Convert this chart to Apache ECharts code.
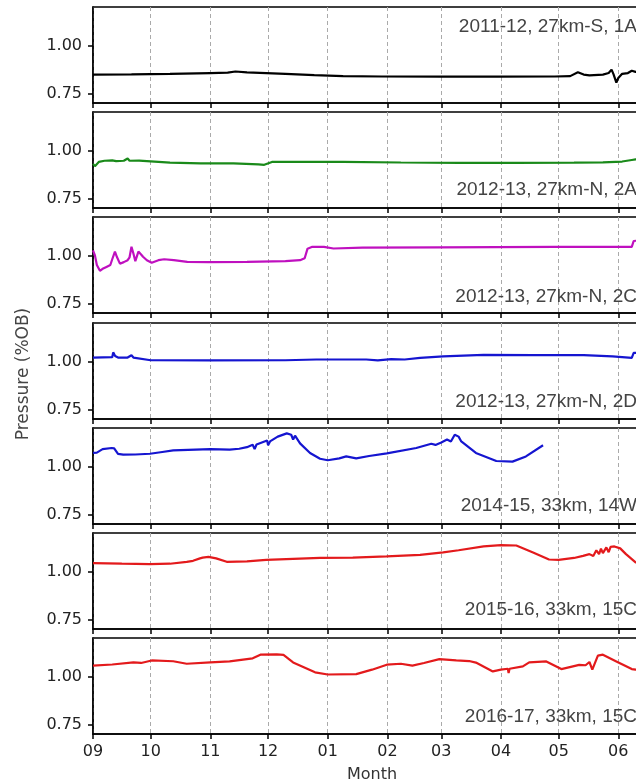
<!DOCTYPE html>
<html>
<head>
<meta charset="utf-8">
<script src="https://cdn.jsdelivr.net/npm/echarts@6/dist/echarts.min.js"></script>
<style>
  html, body { margin: 0; padding: 0; background: #fff; }
  #chart { width: 636px; height: 782px; }
</style>
</head>
<body>
<div id="chart"></div>
<script>
// x = days since 1 Sep, y = pressure as fraction of overburden
var monthDays = [0, 30, 61, 91, 122, 153, 181, 212, 242, 273];
var monthLabels = ["09", "10", "11", "12", "01", "02", "03", "04", "05", "06"];
var yTicks = [0.75, 1.0];

var panelNames = [
  "2011-12, 27km-S, 1A",
  "2012-13, 27km-N, 2A",
  "2012-13, 27km-N, 2C",
  "2012-13, 27km-N, 2D",
  "2014-15, 33km, 14W",
  "2015-16, 33km, 15C",
  "2016-17, 33km, 15C"
];
var panelColors = ["#000000", "#1a8a1a", "#bf10bf", "#1515d0", "#1515d0", "#e31a1c", "#e31a1c"];

var black1A = [[0,0.848],[20,0.849],[40,0.852],[61,0.856],[70,0.858],[74,0.864],[80,0.860],[100,0.852],[115,0.845],[130,0.840],[150,0.838],[181,0.837],[210,0.837],[240,0.838],[248,0.840],[252,0.860],[255,0.848],[258,0.844],[265,0.848],[268,0.856],[269.5,0.874],[270.5,0.850],[272,0.806],[273,0.830],[275,0.852],[278,0.856],[280,0.868],[282,0.862],[290,0.860]];
var green2A = [[0,0.930],[1,0.918],[3,0.940],[6,0.946],[10,0.948],[11,0.958],[12,0.944],[16,0.946],[18,0.958],[19,0.946],[24,0.947],[30,0.943],[40,0.936],[56,0.932],[73,0.932],[86,0.927],[89,0.925],[93,0.940],[110,0.941],[130,0.940],[160,0.937],[190,0.935],[220,0.935],[250,0.936],[265,0.938],[275,0.942],[280,0.950],[282,0.953],[290,0.955]];
var magenta2C = [[0,1.026],[1,1.00],[2,0.95],[3.6,0.92],[5,0.93],[7,0.94],[9,0.95],[10,0.98],[11.4,1.02],[12.5,0.99],[14,0.957],[16,0.965],[18,0.975],[19,0.99],[20,1.045],[21,1.01],[22,0.97],[23.6,1.02],[25,1.005],[26,0.993],[28,0.975],[30.5,0.962],[34,0.975],[37,0.98],[42,0.975],[49,0.966],[60,0.965],[80,0.966],[100,0.970],[107.6,0.975],[110,0.985],[111.5,1.035],[114,1.045],[120,1.044],[125,1.036],[140,1.040],[180,1.042],[240,1.044],[280,1.044],[281,1.075],[282,1.085],[290,1.085]];
var blue2D = [[0,1.020],[5,1.021],[10,1.022],[10.5,1.047],[11.5,1.028],[13,1.020],[18,1.020],[20,1.032],[21,1.020],[22,1.010],[30,1.006],[60,1.005],[100,1.006],[116,1.010],[142,1.010],[148,1.005],[155,1.012],[162,1.010],[170,1.018],[182,1.026],[203,1.034],[229,1.033],[230,1.026],[232,1.033],[255,1.033],[270,1.026],[280,1.018],[281,1.044],[282,1.046],[290,1.046]];
var blue14W = [[0,1.070],[2,1.072],[5,1.090],[9.7,1.096],[11,1.094],[13,1.065],[15.7,1.061],[22,1.062],[29.6,1.066],[36,1.075],[41.7,1.083],[61,1.090],[71,1.087],[76,1.092],[80,1.100],[83,1.113],[84,1.090],[85,1.114],[90.5,1.135],[91,1.110],[92,1.130],[96,1.155],[100.7,1.172],[103,1.165],[104,1.140],[105,1.160],[107.6,1.120],[112.8,1.070],[118,1.040],[122,1.032],[128,1.042],[131.6,1.052],[136.8,1.042],[143.5,1.054],[152.7,1.068],[168,1.096],[175.8,1.118],[178,1.112],[181,1.125],[184,1.140],[186,1.130],[188,1.165],[190,1.155],[191.4,1.130],[199,1.070],[209.6,1.028],[218,1.025],[225,1.052],[233.9,1.110]];
var red15C1 = [[0,1.043],[15,1.040],[29.6,1.038],[40,1.040],[48.7,1.050],[52,1.055],[55.6,1.068],[56,1.058],[57,1.072],[58,1.081],[60,1.076],[64,1.068],[69.5,1.050],[80,1.052],[90,1.060],[118,1.070],[135,1.072],[152.6,1.078],[170,1.086],[182,1.099],[190,1.110],[203,1.130],[212,1.137],[220,1.135],[228.7,1.099],[237,1.062],[242,1.060],[250,1.070],[254.7,1.081],[258,1.090],[260,1.080],[261.6,1.110],[263,1.090],[264,1.118],[265,1.095],[266.8,1.125],[268,1.100],[269,1.128],[271,1.130],[274,1.120],[277,1.090],[282,1.047],[290,1.040]];
var red15C2 = [[0,1.056],[10,1.062],[21,1.073],[25,1.070],[30.5,1.083],[41.7,1.079],[48.7,1.066],[61,1.073],[71,1.078],[72,1.086],[83,1.094],[87,1.113],[95.5,1.115],[99,1.112],[104,1.073],[115.4,1.021],[122,1.010],[136.8,1.012],[145,1.035],[152.7,1.061],[160,1.066],[166,1.056],[172,1.070],[180,1.090],[188.8,1.083],[195.5,1.080],[199,1.072],[207.8,1.026],[212,1.035],[215.6,1.040],[216,1.018],[216.5,1.040],[223.4,1.052],[226.7,1.073],[235.6,1.078],[243.4,1.038],[252.7,1.060],[256,1.058],[258,1.075],[259.5,1.035],[262.4,1.108],[265,1.113],[272,1.078],[280,1.038],[282,1.035],[290,1.035]];

var panelData = [black1A, green2A, magenta2C, blue2D, blue14W, red15C1, red15C2];
var nameTops = [17, 180, 287, 392, 496, 600, 707];

var chart = echarts.init(document.getElementById("chart"));

var grids = [], xAxes = [], yAxes = [], series = [], titles = [];
for (var i = 0; i < 7; i++) {
  var last = i === 6;
  grids.push({
    left: 93,
    right: -15,
    top: Math.round(7 + 105.2 * i),
    height: 96,
    outerBoundsMode: "none",
    show: true,
    borderColor: "#000",
    borderWidth: 1.5
  });
  xAxes.push({
    type: "value",
    gridIndex: i,
    min: 0,
    max: 290,
    axisLine: { show: true, onZero: false, lineStyle: { color: "#000", width: 1.5 } },
    axisTick: { show: true, customValues: monthDays, length: 5, lineStyle: { color: "#000", width: 1.5 } },
    axisLabel: {
      show: last,
      customValues: monthDays,
      margin: 10,
      fontSize: 16,
      fontFamily: "DejaVu Sans",
      color: "#222",
      formatter: function (v) { return monthLabels[monthDays.indexOf(v)]; }
    },
    splitLine: { show: true, lineStyle: { color: "#aaa", width: 1, type: [4, 3] } },
    name: last ? "Month" : "",
    nameLocation: "middle",
    nameGap: 33,
    nameTextStyle: { fontSize: 16, fontFamily: "DejaVu Sans", color: "#333" }
  });
  yAxes.push({
    type: "value",
    gridIndex: i,
    min: 0.70,
    max: 1.20,
    axisLine: { show: true, lineStyle: { color: "#000", width: 1.5 } },
    axisTick: { show: true, customValues: yTicks, length: 5, lineStyle: { color: "#000", width: 1.5 } },
    axisLabel: {
      customValues: yTicks,
      margin: 11,
      fontSize: 16,
      fontFamily: "DejaVu Sans",
      color: "#222",
      formatter: function (v) { return v.toFixed(2); }
    },
    splitLine: { show: false }
  });
  series.push({
    type: "line",
    xAxisIndex: i,
    yAxisIndex: i,
    data: panelData[i],
    showSymbol: false,
    silent: true,
    lineStyle: { color: panelColors[i], width: 2.2 }
  });
  titles.push({
    text: panelNames[i],
    right: -1,
    top: nameTops[i],
    padding: 0,
    textStyle: { fontSize: 19, lineHeight: 19, fontWeight: "normal", fontFamily: "Liberation Sans", color: "#444" }
  });
}

chart.setOption({
  animation: false,
  title: titles,
  grid: grids,
  xAxis: xAxes,
  yAxis: yAxes,
  series: series,
  graphic: [{
    type: "text",
    x: 24,
    y: 374,
    rotation: Math.PI / 2,
    style: {
      text: "Pressure (%OB)",
      fontSize: 17,
      fontFamily: "DejaVu Sans",
      fill: "#444",
      align: "center",
      verticalAlign: "middle"
    }
  }]
});
</script>
</body>
</html>
